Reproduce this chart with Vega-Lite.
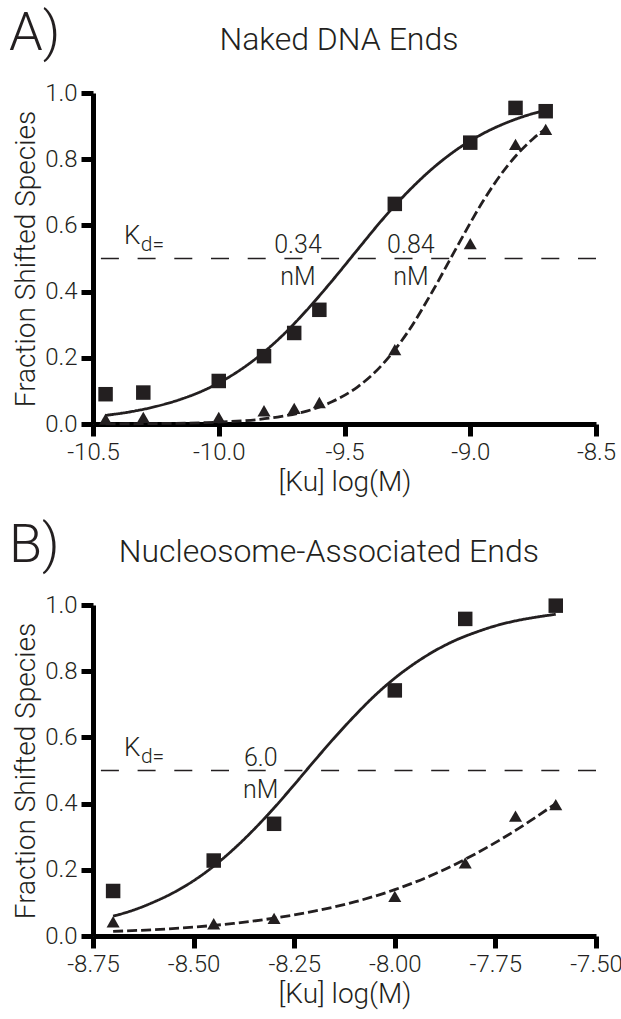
{
  "$schema": "https://vega.github.io/schema/vega-lite/v6.json",
  "padding": {"left": 8, "top": 6, "right": 0, "bottom": 5},
  "spacing": 22,
  "config": {
    "view": {"stroke": null},
    "axis": {
      "domain": true, "ticks": true, "domainColor": "black", "domainWidth": 5, "tickColor": "black", "tickWidth": 5, "tickSize": 12,
      "labelFont": "Roboto", "labelFontWeight": 300, "labelFontSize": 24, "labelColor": "#231f20", "labelPadding": 4,
      "titleFont": "Roboto", "titleFontWeight": 300, "titleFontSize": 28, "titleColor": "#231f20", "titlePadding": 4,
      "grid": false, "labelFlush": false, "labelOverlap": false
    }
  },
  "datasets": {
    "pointsA": [
      {"logKu": -10.45, "fraction": 0.09, "series": "set 1"},
      {"logKu": -10.3, "fraction": 0.095, "series": "set 1"},
      {"logKu": -10.0, "fraction": 0.13, "series": "set 1"},
      {"logKu": -9.82, "fraction": 0.205, "series": "set 1"},
      {"logKu": -9.7, "fraction": 0.275, "series": "set 1"},
      {"logKu": -9.6, "fraction": 0.345, "series": "set 1"},
      {"logKu": -9.3, "fraction": 0.665, "series": "set 1"},
      {"logKu": -9.0, "fraction": 0.85, "series": "set 1"},
      {"logKu": -8.82, "fraction": 0.955, "series": "set 1"},
      {"logKu": -8.7, "fraction": 0.945, "series": "set 1"},
      {"logKu": -10.45, "fraction": 0.015, "series": "set 2"},
      {"logKu": -10.3, "fraction": 0.02, "series": "set 2"},
      {"logKu": -10.0, "fraction": 0.02, "series": "set 2"},
      {"logKu": -9.82, "fraction": 0.04, "series": "set 2"},
      {"logKu": -9.7, "fraction": 0.047, "series": "set 2"},
      {"logKu": -9.6, "fraction": 0.065, "series": "set 2"},
      {"logKu": -9.3, "fraction": 0.225, "series": "set 2"},
      {"logKu": -9.0, "fraction": 0.545, "series": "set 2"},
      {"logKu": -8.82, "fraction": 0.845, "series": "set 2"},
      {"logKu": -8.7, "fraction": 0.89, "series": "set 2"}
    ],
    "curvesA": [
      {"logKu": -10.45, "fraction": 0.026, "series": "set 1"},
      {"logKu": -10.35, "fraction": 0.037, "series": "set 1"},
      {"logKu": -10.25, "fraction": 0.053, "series": "set 1"},
      {"logKu": -10.15, "fraction": 0.075, "series": "set 1"},
      {"logKu": -10.05, "fraction": 0.105, "series": "set 1"},
      {"logKu": -9.95, "fraction": 0.146, "series": "set 1"},
      {"logKu": -9.85, "fraction": 0.199, "series": "set 1"},
      {"logKu": -9.75, "fraction": 0.265, "series": "set 1"},
      {"logKu": -9.65, "fraction": 0.344, "series": "set 1"},
      {"logKu": -9.55, "fraction": 0.432, "series": "set 1"},
      {"logKu": -9.45, "fraction": 0.525, "series": "set 1"},
      {"logKu": -9.35, "fraction": 0.617, "series": "set 1"},
      {"logKu": -9.25, "fraction": 0.7, "series": "set 1"},
      {"logKu": -9.15, "fraction": 0.772, "series": "set 1"},
      {"logKu": -9.05, "fraction": 0.831, "series": "set 1"},
      {"logKu": -8.95, "fraction": 0.877, "series": "set 1"},
      {"logKu": -8.85, "fraction": 0.912, "series": "set 1"},
      {"logKu": -8.75, "fraction": 0.938, "series": "set 1"},
      {"logKu": -8.7, "fraction": 0.948, "series": "set 1"},
      {"logKu": -10.45, "fraction": 0.0005, "series": "set 2"},
      {"logKu": -10.25, "fraction": 0.0014, "series": "set 2"},
      {"logKu": -10.05, "fraction": 0.0043, "series": "set 2"},
      {"logKu": -9.95, "fraction": 0.0075, "series": "set 2"},
      {"logKu": -9.85, "fraction": 0.013, "series": "set 2"},
      {"logKu": -9.75, "fraction": 0.023, "series": "set 2"},
      {"logKu": -9.65, "fraction": 0.039, "series": "set 2"},
      {"logKu": -9.55, "fraction": 0.067, "series": "set 2"},
      {"logKu": -9.45, "fraction": 0.111, "series": "set 2"},
      {"logKu": -9.35, "fraction": 0.179, "series": "set 2"},
      {"logKu": -9.25, "fraction": 0.276, "series": "set 2"},
      {"logKu": -9.15, "fraction": 0.401, "series": "set 2"},
      {"logKu": -9.05, "fraction": 0.539, "series": "set 2"},
      {"logKu": -8.95, "fraction": 0.672, "series": "set 2"},
      {"logKu": -8.85, "fraction": 0.782, "series": "set 2"},
      {"logKu": -8.75, "fraction": 0.862, "series": "set 2"},
      {"logKu": -8.7, "fraction": 0.892, "series": "set 2"}
    ],
    "pointsB": [
      {"logKu": -8.7, "fraction": 0.136, "series": "set 1"},
      {"logKu": -8.45, "fraction": 0.228, "series": "set 1"},
      {"logKu": -8.3, "fraction": 0.339, "series": "set 1"},
      {"logKu": -8.0, "fraction": 0.742, "series": "set 1"},
      {"logKu": -7.825, "fraction": 0.958, "series": "set 1"},
      {"logKu": -7.6, "fraction": 0.998, "series": "set 1"},
      {"logKu": -8.7, "fraction": 0.043, "series": "set 2"},
      {"logKu": -8.45, "fraction": 0.037, "series": "set 2"},
      {"logKu": -8.3, "fraction": 0.053, "series": "set 2"},
      {"logKu": -8.0, "fraction": 0.12, "series": "set 2"},
      {"logKu": -7.825, "fraction": 0.221, "series": "set 2"},
      {"logKu": -7.7, "fraction": 0.362, "series": "set 2"},
      {"logKu": -7.6, "fraction": 0.397, "series": "set 2"}
    ],
    "curvesB": [
      {"logKu": -8.7, "fraction": 0.06, "series": "set 1"},
      {"logKu": -8.65, "fraction": 0.078, "series": "set 1"},
      {"logKu": -8.6, "fraction": 0.102, "series": "set 1"},
      {"logKu": -8.55, "fraction": 0.131, "series": "set 1"},
      {"logKu": -8.5, "fraction": 0.167, "series": "set 1"},
      {"logKu": -8.45, "fraction": 0.211, "series": "set 1"},
      {"logKu": -8.4, "fraction": 0.263, "series": "set 1"},
      {"logKu": -8.35, "fraction": 0.322, "series": "set 1"},
      {"logKu": -8.3, "fraction": 0.387, "series": "set 1"},
      {"logKu": -8.25, "fraction": 0.457, "series": "set 1"},
      {"logKu": -8.2, "fraction": 0.529, "series": "set 1"},
      {"logKu": -8.15, "fraction": 0.599, "series": "set 1"},
      {"logKu": -8.1, "fraction": 0.665, "series": "set 1"},
      {"logKu": -8.05, "fraction": 0.726, "series": "set 1"},
      {"logKu": -8.0, "fraction": 0.779, "series": "set 1"},
      {"logKu": -7.95, "fraction": 0.824, "series": "set 1"},
      {"logKu": -7.9, "fraction": 0.862, "series": "set 1"},
      {"logKu": -7.85, "fraction": 0.893, "series": "set 1"},
      {"logKu": -7.8, "fraction": 0.917, "series": "set 1"},
      {"logKu": -7.75, "fraction": 0.937, "series": "set 1"},
      {"logKu": -7.7, "fraction": 0.952, "series": "set 1"},
      {"logKu": -7.65, "fraction": 0.963, "series": "set 1"},
      {"logKu": -7.6, "fraction": 0.972, "series": "set 1"},
      {"logKu": -8.7, "fraction": 0.014, "series": "set 2"},
      {"logKu": -8.6, "fraction": 0.019, "series": "set 2"},
      {"logKu": -8.5, "fraction": 0.027, "series": "set 2"},
      {"logKu": -8.4, "fraction": 0.038, "series": "set 2"},
      {"logKu": -8.3, "fraction": 0.054, "series": "set 2"},
      {"logKu": -8.2, "fraction": 0.075, "series": "set 2"},
      {"logKu": -8.1, "fraction": 0.103, "series": "set 2"},
      {"logKu": -8.0, "fraction": 0.14, "series": "set 2"},
      {"logKu": -7.9, "fraction": 0.188, "series": "set 2"},
      {"logKu": -7.8, "fraction": 0.248, "series": "set 2"},
      {"logKu": -7.7, "fraction": 0.319, "series": "set 2"},
      {"logKu": -7.6, "fraction": 0.4, "series": "set 2"}
    ]
  },
  "vconcat": [
    {
      "width": 503,
      "height": 331,
      "layer": [
        {
          "data": {"name": "curvesA"},
          "mark": {"type": "line", "interpolate": "monotone", "strokeWidth": 2.8, "color": "#231f20"},
          "encoding": {
            "x": {"field": "logKu", "type": "quantitative",
                  "scale": {"domain": [-10.5, -8.5], "nice": false, "zero": false},
                  "axis": {"title": "[Ku] log(M)", "values": [-10.5, -10, -9.5, -9, -8.5], "format": ".1f", "labelExpr": "replace(datum.label, '−', '-')"}},
            "y": {"field": "fraction", "type": "quantitative",
                  "scale": {"domain": [0, 1], "nice": false, "zero": false},
                  "axis": {"title": "Fraction Shifted Species", "values": [0, 0.2, 0.4, 0.6, 0.8, 1], "format": ".1f"}},
            "strokeDash": {"field": "series", "type": "nominal", "scale": {"domain": ["set 1", "set 2"], "range": [[1, 0], [10, 4]]}, "legend": null}
          }
        },
        {
          "data": {"values": [{"level": 0.5}]},
          "mark": {"type": "rule", "strokeDash": [18, 18.7], "strokeWidth": 1.5, "color": "#231f20"},
          "encoding": {"y": {"field": "level", "type": "quantitative"}}
        },
        {
          "data": {"name": "pointsA"},
          "mark": {"type": "point", "filled": true, "opacity": 1, "color": "#231f20"},
          "encoding": {
            "x": {"field": "logKu", "type": "quantitative"},
            "y": {"field": "fraction", "type": "quantitative"},
            "shape": {"field": "series", "type": "nominal", "scale": {"domain": ["set 1", "set 2"], "range": ["square", "triangle-up"]}, "legend": null},
            "size": {"field": "series", "type": "nominal", "scale": {"domain": ["set 1", "set 2"], "range": [210, 170]}, "legend": null}
          }
        },
        {
          "data": {"values": [{"t": "A)"}]},
          "mark": {"type": "text", "align": "left", "baseline": "alphabetic", "fontSize": 54, "font": "Roboto", "fontWeight": 300, "color": "#231f20"},
          "encoding": {"x": {"datum": -10.834, "type": "quantitative"}, "y": {"datum": 1.13, "type": "quantitative"}, "text": {"field": "t"}}
        },
        {
          "data": {"values": [{"t": "Naked DNA Ends"}]},
          "mark": {"type": "text", "align": "center", "baseline": "alphabetic", "fontSize": 32, "font": "Roboto", "fontWeight": 300, "color": "#231f20"},
          "encoding": {"x": {"datum": -9.522, "type": "quantitative"}, "y": {"datum": 1.13, "type": "quantitative"}, "text": {"field": "t"}}
        },
        {
          "data": {"values": [{"t": "K"}]},
          "mark": {"type": "text", "align": "left", "baseline": "alphabetic", "fontSize": 26, "font": "Roboto", "fontWeight": 300, "color": "#231f20"},
          "encoding": {"x": {"datum": -10.377, "type": "quantitative"}, "y": {"datum": 0.545, "type": "quantitative"}, "text": {"field": "t"}}
        },
        {
          "data": {"values": [{"t": "d="}]},
          "mark": {"type": "text", "align": "left", "baseline": "alphabetic", "fontSize": 21, "font": "Roboto", "fontWeight": 300, "color": "#231f20"},
          "encoding": {"x": {"datum": -10.31, "type": "quantitative"}, "y": {"datum": 0.522, "type": "quantitative"}, "text": {"field": "t"}}
        },
        {
          "data": {"values": [{"t": "0.34\nnM"}]},
          "mark": {"type": "text", "align": "center", "baseline": "alphabetic", "fontSize": 25, "font": "Roboto", "fontWeight": 300, "color": "#231f20", "lineBreak": "\n", "lineHeight": 32},
          "encoding": {"x": {"datum": -9.685, "type": "quantitative"}, "y": {"datum": 0.517, "type": "quantitative"}, "text": {"field": "t"}}
        },
        {
          "data": {"values": [{"t": "0.84\nnM"}]},
          "mark": {"type": "text", "align": "center", "baseline": "alphabetic", "fontSize": 25, "font": "Roboto", "fontWeight": 300, "color": "#231f20", "lineBreak": "\n", "lineHeight": 32},
          "encoding": {"x": {"datum": -9.236, "type": "quantitative"}, "y": {"datum": 0.517, "type": "quantitative"}, "text": {"field": "t"}}
        }
      ]
    },
    {
      "width": 503,
      "height": 331,
      "layer": [
        {
          "data": {"name": "curvesB"},
          "mark": {"type": "line", "interpolate": "monotone", "strokeWidth": 2.8, "color": "#231f20"},
          "encoding": {
            "x": {"field": "logKu", "type": "quantitative",
                  "scale": {"domain": [-8.75, -7.5], "nice": false, "zero": false},
                  "axis": {"title": "[Ku] log(M)", "values": [-8.75, -8.5, -8.25, -8, -7.75, -7.5], "format": ".2f", "labelExpr": "replace(datum.label, '−', '-')"}},
            "y": {"field": "fraction", "type": "quantitative",
                  "scale": {"domain": [0, 1], "nice": false, "zero": false},
                  "axis": {"title": "Fraction Shifted Species", "values": [0, 0.2, 0.4, 0.6, 0.8, 1], "format": ".1f"}},
            "strokeDash": {"field": "series", "type": "nominal", "scale": {"domain": ["set 1", "set 2"], "range": [[1, 0], [10, 4]]}, "legend": null}
          }
        },
        {
          "data": {"values": [{"level": 0.5}]},
          "mark": {"type": "rule", "strokeDash": [18, 18.7], "strokeWidth": 1.5, "color": "#231f20"},
          "encoding": {"y": {"field": "level", "type": "quantitative"}}
        },
        {
          "data": {"name": "pointsB"},
          "mark": {"type": "point", "filled": true, "opacity": 1, "color": "#231f20"},
          "encoding": {
            "x": {"field": "logKu", "type": "quantitative"},
            "y": {"field": "fraction", "type": "quantitative"},
            "shape": {"field": "series", "type": "nominal", "scale": {"domain": ["set 1", "set 2"], "range": ["square", "triangle-up"]}, "legend": null},
            "size": {"field": "series", "type": "nominal", "scale": {"domain": ["set 1", "set 2"], "range": [210, 170]}, "legend": null}
          }
        },
        {
          "data": {"values": [{"t": "B)"}]},
          "mark": {"type": "text", "align": "left", "baseline": "alphabetic", "fontSize": 54, "font": "Roboto", "fontWeight": 300, "color": "#231f20"},
          "encoding": {"x": {"datum": -8.959, "type": "quantitative"}, "y": {"datum": 1.13, "type": "quantitative"}, "text": {"field": "t"}}
        },
        {
          "data": {"values": [{"t": "Nucleosome-Associated Ends"}]},
          "mark": {"type": "text", "align": "center", "baseline": "alphabetic", "fontSize": 32, "font": "Roboto", "fontWeight": 300, "color": "#231f20"},
          "encoding": {"x": {"datum": -8.164, "type": "quantitative"}, "y": {"datum": 1.13, "type": "quantitative"}, "text": {"field": "t"}}
        },
        {
          "data": {"values": [{"t": "K"}]},
          "mark": {"type": "text", "align": "left", "baseline": "alphabetic", "fontSize": 26, "font": "Roboto", "fontWeight": 300, "color": "#231f20"},
          "encoding": {"x": {"datum": -8.673, "type": "quantitative"}, "y": {"datum": 0.545, "type": "quantitative"}, "text": {"field": "t"}}
        },
        {
          "data": {"values": [{"t": "d="}]},
          "mark": {"type": "text", "align": "left", "baseline": "alphabetic", "fontSize": 21, "font": "Roboto", "fontWeight": 300, "color": "#231f20"},
          "encoding": {"x": {"datum": -8.631, "type": "quantitative"}, "y": {"datum": 0.522, "type": "quantitative"}, "text": {"field": "t"}}
        },
        {
          "data": {"values": [{"t": "6.0\nnM"}]},
          "mark": {"type": "text", "align": "center", "baseline": "alphabetic", "fontSize": 25, "font": "Roboto", "fontWeight": 300, "color": "#231f20", "lineBreak": "\n", "lineHeight": 32},
          "encoding": {"x": {"datum": -8.333, "type": "quantitative"}, "y": {"datum": 0.514, "type": "quantitative"}, "text": {"field": "t"}}
        }
      ]
    }
  ]
}
